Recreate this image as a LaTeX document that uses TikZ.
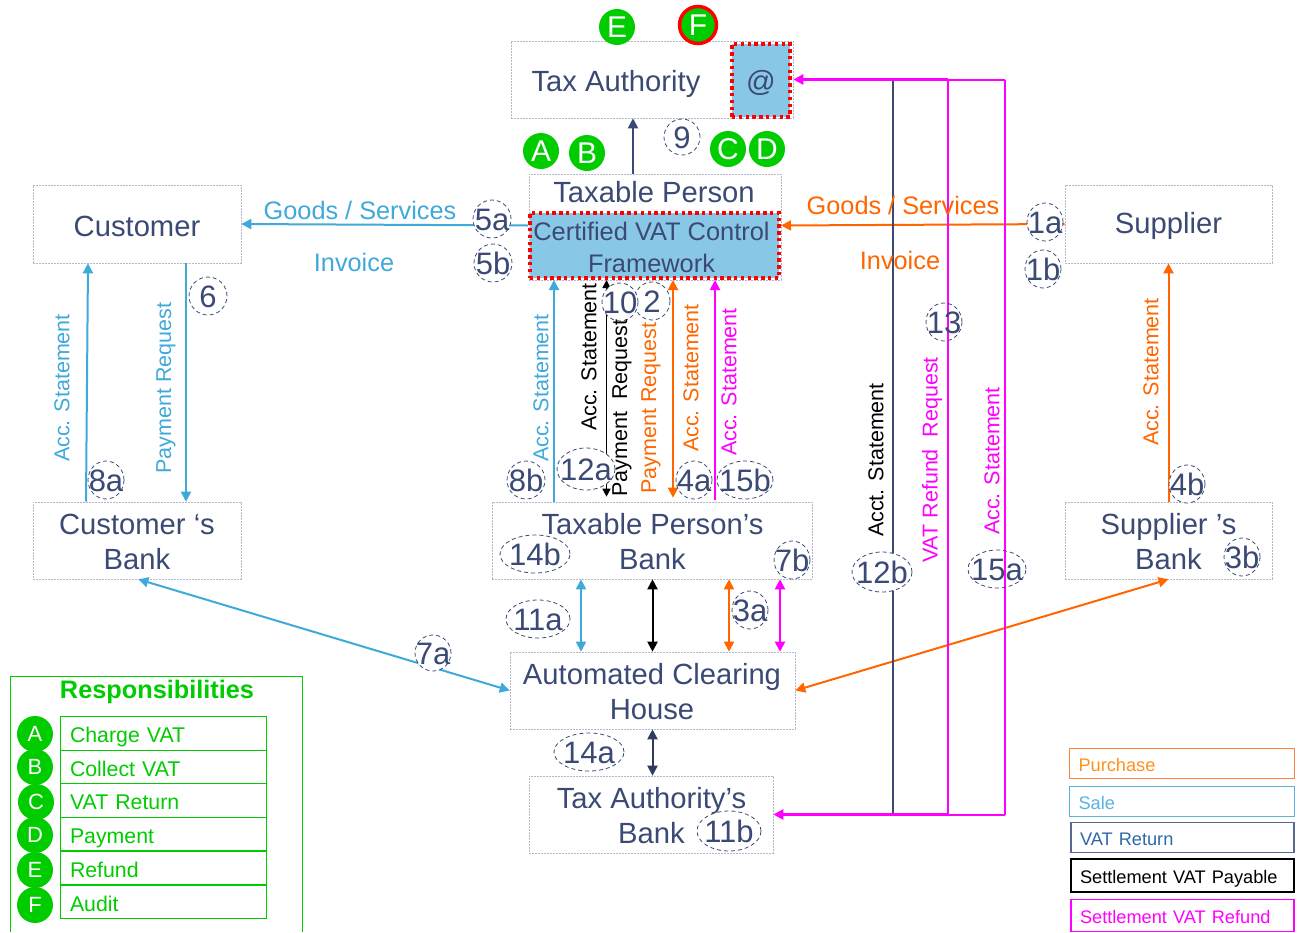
\documentclass[tikz,border=0pt]{standalone}
\usepackage{fontspec}
\setmainfont{Liberation Sans}
\usetikzlibrary{arrows.meta,shapes.geometric}
\definecolor{navy}{HTML}{3B4A75}
\definecolor{dnavy}{HTML}{2F3B5C}
\definecolor{sale}{HTML}{3FA9DA}
\definecolor{ora}{HTML}{FF6600}
\definecolor{mag}{HTML}{FF00FF}
\definecolor{grn}{HTML}{00CC00}
\definecolor{sky}{HTML}{89C7E6}
\definecolor{boxline}{HTML}{B4B8CA}
\newcommand\fs[1]{\fontsize{#1}{#1}\selectfont}
\newcommand\boxfont{\fontsize{29.2}{35}\selectfont}
\newcommand\cvcfont{\fontsize{25.4}{32}\selectfont}
\newcommand\lbl[1]{\smash{\makebox[0pt]{\raisebox{-.36em}{#1}}}}
\tikzset{
  x=1pt,y=-1pt,
  box/.style={draw=boxline,line width=.6pt,dash pattern=on 2pt off 1pt,inner sep=0pt},
  btext/.style={text=navy,align=center,inner sep=0pt,font=\boxfont},
  redbox/.style={fill=sky,draw=red,line width=4pt,dash pattern=on 3.4pt off 3.4pt,inner sep=0pt},
  tag/.style={ellipse,draw=navy,line width=.8pt,dash pattern=on 4pt off 3pt,fill=white,inner sep=0pt,text=navy,font=\fs{31}},
  ball/.style={circle,fill=grn,text=white,inner sep=0pt,minimum size=36pt},
  wire/.style={line width=2pt,-{Triangle[length=10pt,width=10pt]}},
  both/.style={line width=2pt,{Triangle[length=10pt,width=10pt]}-{Triangle[length=10pt,width=10pt]}},
  vtext/.style={rotate=90,inner sep=0pt,font=\fs{21.5}},
  htext/.style={inner sep=0pt,font=\fs{25.3}},
  resp/.style={draw=grn,line width=1pt,text=grn,font=\fs{21.3},text width=186pt,inner xsep=10pt,inner ysep=0pt,align=left,text height=18pt,text depth=0pt},
  keybox/.style={line width=1.2pt,fill=white,minimum height=30pt,font=\fs{18.2},inner xsep=9pt,inner ysep=0pt,align=left,text width=#1,text height=16pt,text depth=0pt},
}
\begin{document}
\begin{tikzpicture}
\useasboundingbox (0,0) rectangle (1301,932);
% boxes
\node[box,minimum width=282pt,minimum height=77pt] (ta) at (652,79.5) {};
\node[redbox,minimum width=58pt,minimum height=73pt] (at) at (761,80.5) {};
\node[btext] (attext) at (761,83) {@};
\node[btext] (tatext) at (616,84) {Tax Authority};
\node[box,minimum width=252pt,minimum height=106pt] (tp) at (655,227) {};
\node[btext] (tptext) at (654,192.5) {Taxable Person};
\node[redbox,minimum width=249pt,minimum height=65pt] (cvc) at (654.5,245.5) {};
\node[btext,font=\cvcfont] (cvctext) at (651.5,247.5) {Certified VAT Control\\Framework};
\node[box,minimum width=208pt,minimum height=78pt] (cust) at (137,224) {};
\node[btext] (custtext) at (137,226) {Customer};
\node[box,minimum width=207pt,minimum height=78pt] (sup) at (1168.5,224) {};
\node[btext] (suptext) at (1168.5,226) {Supplier};
\node[box,minimum width=208pt,minimum height=77pt] (cb) at (137,540.5) {};
\node[btext] (cbtext) at (137,542) {Customer ‘s\\Bank};
\node[box,minimum width=320pt,minimum height=77pt] (tpb) at (652,540.5) {};
\node[btext] (tpbtext) at (652.5,542) {Taxable Person’s\\Bank};
\node[box,minimum width=207pt,minimum height=77pt] (sb) at (1168.5,540.5) {};
\node[btext] (sbtext) at (1168.5,542) {Supplier ’s\\Bank};
\node[box,minimum width=285pt,minimum height=77pt] (ach) at (652.5,690.5) {};
\node[btext] (achtext) at (652,692) {Automated Clearing\\House};
\node[box,minimum width=244pt,minimum height=77pt] (tab) at (651,814.5) {};
\node[btext] (tabtext) at (651.5,815.5) {Tax Authority’s\\Bank};
% column coordinates
\coordinate (xa) at (554,0); \coordinate (xb) at (606.5,0); \coordinate (xc) at (673,0); \coordinate (xd) at (715,0);
\coordinate (xe) at (581,0); \coordinate (xf) at (652.5,0); \coordinate (xg) at (729,0); \coordinate (xh) at (780,0);
\coordinate (xi) at (86,0); \coordinate (xj) at (88,0); \coordinate (xk) at (186,0); \coordinate (xl) at (633,0);
\coordinate (vn) at (893,0); \coordinate (vm) at (948,0); \coordinate (vr) at (1005,0);
% connectors
\draw[wire,sale] ([yshift=20pt]cvc.west) -- (cust.east);
\draw[wire,ora] (sup.west) -- ([yshift=20pt]cvc.east);
\draw[wire,sale] (cb.north -| xi) -- (cust.south -| xj);
\draw[wire,sale] (cust.south -| xk) -- (cb.north -| xk);
\draw[wire,navy] (tp.north -| xl) -- (ta.south -| xl);
\draw[wire,sale] (tpb.north -| xa) -- (cvc.south -| xa);
\draw[black,line width=1.6pt,{Triangle[length=8pt,width=8pt]}-{Triangle[length=8pt,width=8pt]},shorten >=5pt] (cvc.south -| xb) -- (tpb.north -| xb);
\draw[both,ora,shorten >=4pt] (cvc.south -| xc) -- (tpb.north -| xc);
\draw[wire,mag,shorten <=2pt] (tpb.north -| xd) -- (cvc.south -| xd);
\draw[wire,ora] (sb.north) -- (sup.south);
\draw[both,sale] (tpb.south -| xe) -- (ach.north -| xe);
\draw[both,black] (tpb.south -| xf) -- (ach.north -| xf);
\draw[both,ora] (tpb.south -| xg) -- (ach.north -| xg);
\draw[both,mag] (tpb.south -| xh) -- (ach.north -| xh);
\draw[both,sale] ([xshift=-103pt]cb.south east) -- (ach.west);
\draw[both,ora] (ach.east) -- (sb.south);
\draw[both,dnavy] (ach.south -| xf) -- (tab.north -| xf);
\draw[line width=2pt,navy] (ta.east -| vn) -- (tab.east -| vn);
\draw[mag,line width=2pt] (tab.east -| vr) -- (ta.east -| vr);
\draw[mag,line width=2pt] (ta.east -| vm) -- (ta.east -| vr);
\draw[mag,line width=2pt] (tab.east -| vm) -- (tab.east -| vr);
\draw[mag,line width=2pt] (ta.east -| vm) -- (tab.east -| vm);
\draw[wire,mag,line width=3pt] (ta.east -| vm) -- (ta.east);
\draw[wire,mag,line width=3pt] (tab.east -| vm) -- (tab.east);
% connector labels
\node[htext,sale] (l1) at (360,210) {Goods / Services};
\node[htext,sale] (l2) at (354,262) {Invoice};
\node[htext,ora] (l3) at (903,205) {Goods / Services};
\node[htext,ora] (l4) at (900,260) {Invoice};
\node[vtext,sale] (v1) at (62,388) {Acc. Statement};
\node[vtext,sale] (v2) at (166,388) {Payment Request};
\node[vtext,sale] (v3) at (541,388) {Acc. Statement};
\node[vtext,black] (v4) at (589,357) {Acc. Statement};
\node[vtext,ora] (v6) at (651,408) {Payment Request};
\node[vtext,ora] (v7) at (691,378) {Acc. Statement};
\node[vtext,mag] (v8) at (729,382) {Acc. Statement};
\node[vtext,black] (v9) at (876,460) {Acct. Statement};
\node[vtext,mag] (v10) at (932,460) {VAT Refund~~Request};
\node[vtext,mag] (v11) at (992,461) {Acc. Statement};
\node[vtext,ora] (v12) at (1151,372) {Acc. Statement};
% tags
\foreach \n/\x/\y/\w/\h/\t in {
 t9/682/137/36/36/9, t5a/492/219/38/38/5a, t5b/493/263/38/38/5b, t1a/1045/222/36/38/1a, t1b/1043/269/36/38/1b,
 t6/208/296/38/38/6, t8a/106/480/36/38/8a, t8b/526/480/38/38/8b, t2/652/301/36/38/2, t10/620/302/36/38/10,
 t12a/586/469/58/42/12a, t4a/694/480/36/38/4a, t15b/745/480/56/38/15b, t14b/535/554/70/38/14b, t7b/792/560/36/38/7b,
 t12b/882/572/60/40/12b, t3b/1242/557/36/38/3b, t4b/1187/484/36/38/4b, t3a/750/610/36/38/3a, t11a/538/619/64/38/11a,
 t7a/433/653/36/36/7a, t14a/589/752/70/38/14a, t11b/729/831/64/40/11b}
 {\node[tag,minimum width=\w pt,minimum height=\h pt] (\n) at (\x,\y) {\lbl{\t}};}
\foreach \n/\x/\y/\w/\h/\t in {t13/944/322/36/38/13, t15a/997/569/58/38/15a}
 {\node[tag,fill=none,minimum width=\w pt,minimum height=\h pt] (\n) at (\x,\y) {\lbl{\t}};}
\node[vtext,black] (v5) at (622,408) {Payment~~Request};
% balls
\foreach \n/\x/\y/\t in {bE/617/27/E, bA/541/151/A, bB/587/153/B, bC/728/149/C, bD/767/149/D}
 {\node[ball,font=\fs{30}] (\n) at (\x,\y) {\lbl{\t}};}
\node[ball,font=\fs{30},draw=red,line width=3.5pt,minimum size=37pt] (bF) at (698,25) {\lbl{F}};
% responsibilities legend
\draw[grn,line width=1pt] (10,932) -- (10,676) -- (302,676) -- (302,932);
\node[inner sep=0pt,text=grn,font=\fs{25.3}\bfseries] (rt) at (157,692) {Responsibilities};
\foreach \n/\y/\t in {r1/733.5/Charge VAT, r2/767/Collect VAT, r3/800.5/VAT Return, r4/834/Payment, r5/868/Refund, r6/902/Audit}
 {\node[resp,minimum height=33.5pt] (\n) at (163,\y) {\t};}
\foreach \n/\x/\y/\t in {cA/35/734/A, cB/35/767/B, cC/36/802/C, cD/35/835/D, cE/35/870/E, cF/35/905/F}
 {\node[ball,font=\fs{22}] (\n) at (\x,\y) {\lbl{\t}};}
% key
\node[keybox=207pt,draw={rgb,255:red,255;green,130;blue,60},text={rgb,255:red,255;green,145;blue,30}] (k1) at (1182,763.5) {Purchase};
\node[keybox=207pt,draw={rgb,255:red,90;green,180;blue,225},text={rgb,255:red,90;green,180;blue,225}] (k2) at (1182,801.5) {Sale};
\node[keybox=205pt,draw={rgb,255:red,85;green,105;blue,145},text={rgb,255:red,45;green,105;blue,170}] (k3) at (1182.5,837.5) {VAT Return};
\node[keybox=205pt,draw=black,text=black,minimum height=33pt] (k4) at (1182.5,875.5) {Settlement VAT Payable};
\node[keybox=205pt,draw=mag,text=mag,minimum height=32pt] (k5) at (1182.5,915.5) {Settlement VAT Refund};
\end{tikzpicture}
\end{document}
